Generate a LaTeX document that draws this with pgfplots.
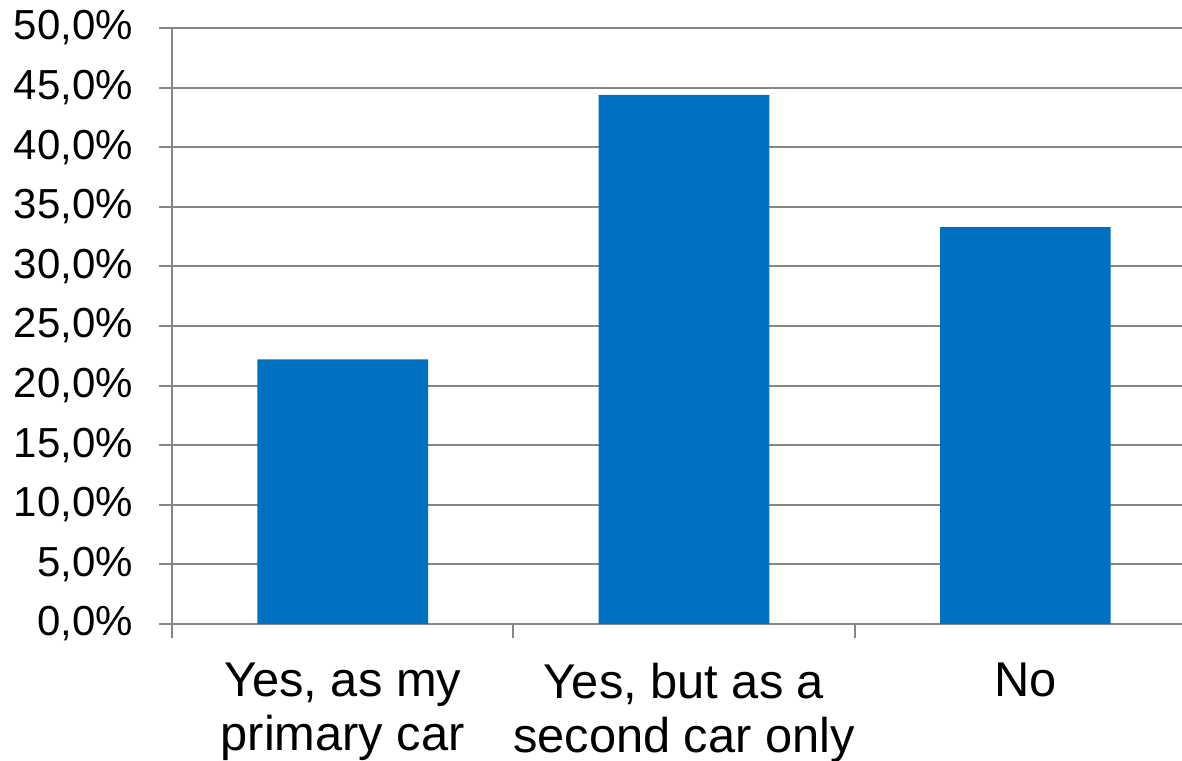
\documentclass[border=0pt]{standalone}
\usepackage{pgfplots}
\pgfplotsset{compat=1.18}
\usepackage{fontspec}
\setmainfont{Liberation Sans}
\definecolor{barblue}{HTML}{0070C0}
\definecolor{gridgray}{HTML}{868686}
\begin{document}
\begin{tikzpicture}
\begin{axis}[
  at={(86bp,68.5bp)}, anchor=south west,
  scale only axis, width=505bp, height=298bp,
  xmin=-0.5, xmax=2.459, ymin=0, ymax=50,
  axis lines*=left,
  ybar, bar width=0.5,
  ymajorgrids, grid style={gridgray, line width=1bp},
  axis line style={gridgray, line width=1bp},
  tick style={gridgray, line width=1bp},
  tick align=outside,
  major tick length=6.5bp, minor tick length=7bp,
  ytick={0,5,...,50},
  yticklabel={\pgfmathprintnumber[fixed,fixed zerofill,precision=1,use comma,assume math mode=true]{\tick}\%},
  yticklabel style={font=\fontsize{21bp}{25bp}\selectfont, anchor=east, inner sep=0pt, xshift=-12.8bp},
  xtick={0,1,2},
  xticklabels={{Yes, as my\\primary car},{Yes, but as a\\second car only},{No}},
  major x tick style={draw=none},
  minor xtick={-0.5,0.5,1.5},
  xticklabel style={font=\fontsize{24.4bp}{27bp}\selectfont, align=center, anchor=north, inner sep=0pt, yshift=-13bp},
]
\addplot[fill=barblue, draw=none] coordinates {(0,22.2) (1,44.4) (2,33.3)};
\end{axis}
\pgfresetboundingbox
\useasboundingbox (0,0) rectangle (591bp,380.5bp);
\end{tikzpicture}
\end{document}
